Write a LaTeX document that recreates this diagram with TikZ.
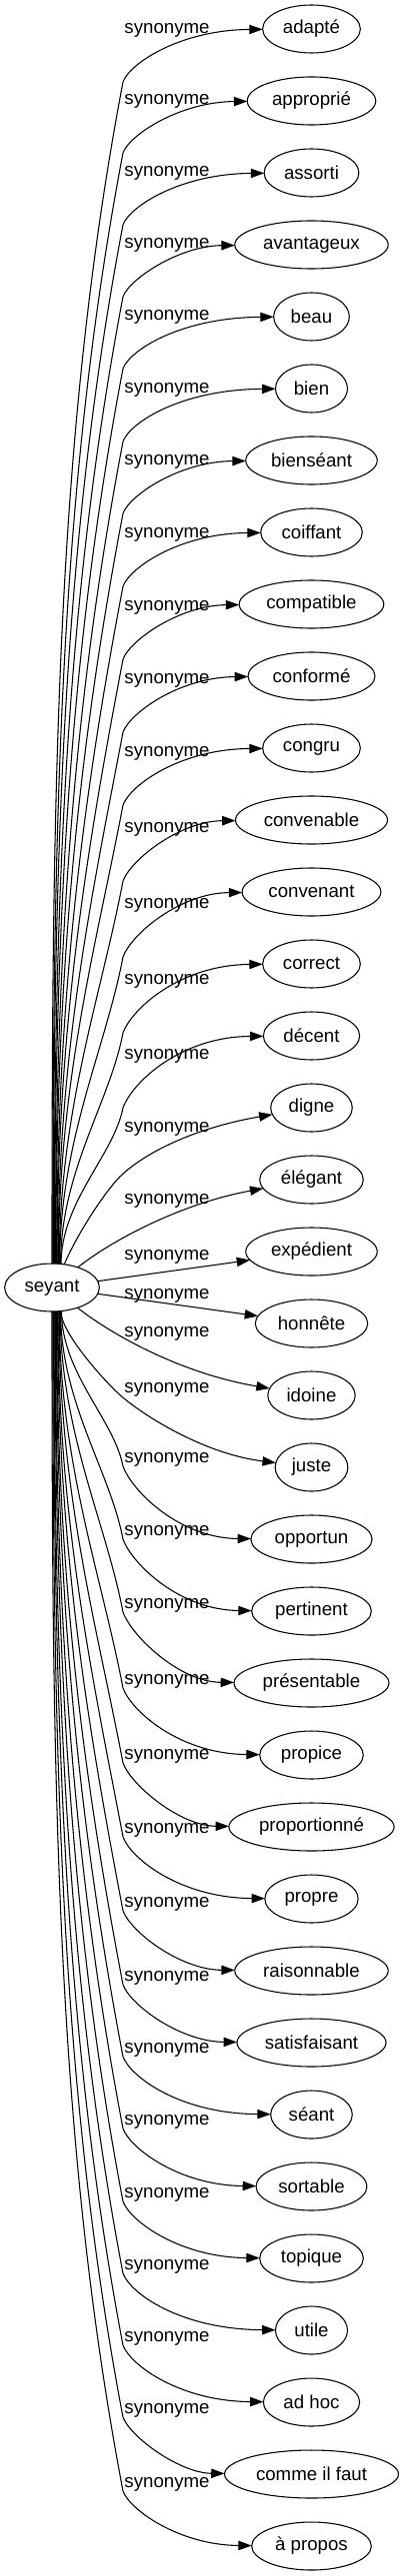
\documentclass[tikz,border=0pt]{standalone}
\usepackage{fontspec}
\setmainfont{Liberation Sans}
\usetikzlibrary{arrows.meta, positioning, shapes, calc}

\begin{document}
\begin{tikzpicture}[x=0.75pt, y=-0.75pt, node distance=18pt,
    word/.style={ellipse, draw, line width=0.8pt, minimum width=54pt, minimum height=36pt,
        inner xsep=4.5pt, inner ysep=2pt, outer sep=0pt, font=\fontsize{14}{16}\selectfont},
    rel/.style={inner sep=0pt, font=\fontsize{14}{16}\selectfont},
    link/.style={line width=0.8pt, -{Triangle[length=10pt, width=7pt]}}]
    \useasboundingbox (0,0) rectangle (403,2579);

    \node (seyant) [word] at (52,1289) {seyant};

    \node (adapte) [word] at (311.5,29) {adapté};
    \node (approprie) [word, below=of adapte] {approprié};
    \node (assorti) [word, below=of approprie] {assorti};
    \node (avantageux) [word, below=of assorti] {avantageux};
    \node (beau) [word, below=of avantageux] {beau};
    \node (bien) [word, below=of beau] {bien};
    \node (bienseant) [word, below=of bien] {bienséant};
    \node (coiffant) [word, below=of bienseant] {coiffant};
    \node (compatible) [word, below=of coiffant] {compatible};
    \node (conforme) [word, below=of compatible] {conformé};
    \node (congru) [word, below=of conforme] {congru};
    \node (convenable) [word, below=of congru] {convenable};
    \node (convenant) [word, below=of convenable] {convenant};
    \node (correct) [word, below=of convenant] {correct};
    \node (decent) [word, below=of correct] {décent};
    \node (digne) [word, below=of decent] {digne};
    \node (elegant) [word, below=of digne] {élégant};
    \node (expedient) [word, below=of elegant] {expédient};
    \node (honnete) [word, below=of expedient] {honnête};
    \node (idoine) [word, below=of honnete] {idoine};
    \node (juste) [word, below=of idoine] {juste};
    \node (opportun) [word, below=of juste] {opportun};
    \node (pertinent) [word, below=of opportun] {pertinent};
    \node (presentable) [word, below=of pertinent] {présentable};
    \node (propice) [word, below=of presentable] {propice};
    \node (proportionne) [word, below=of propice] {proportionné};
    \node (propre) [word, below=of proportionne] {propre};
    \node (raisonnable) [word, below=of propre] {raisonnable};
    \node (satisfaisant) [word, below=of raisonnable] {satisfaisant};
    \node (seant) [word, below=of satisfaisant] {séant};
    \node (sortable) [word, below=of seant] {sortable};
    \node (topique) [word, below=of sortable] {topique};
    \node (utile) [word, below=of topique] {utile};
    \node (adhoc) [word, below=of utile] {ad hoc};
    \node (commeilfaut) [word, below=of adhoc] {comme il faut};
    \node (apropos) [word, below=of commeilfaut] {à propos};

    % upper fan
    \foreach \tgt/\tyy/\lyy/\angl in {adapte/29/30/90, approprie/101/101/88, assorti/173/173/87,
        avantageux/245/245/85, beau/317/317/84, bien/389/390/82, bienseant/461/462/81,
        coiffant/533/535/79, compatible/605/608/78, conforme/677/681/76, congru/749/754/75,
        convenable/821/830/73, convenant/893/906/72, correct/965/982/70, decent/1037/1057/69} {
        \pgfmathsetmacro\byy{\lyy+52}
        \pgfmathsetmacro\dist{1266-\byy}
        \pgfmathsetmacro\rise{\byy-\tyy}
        \node (lbl-\tgt) [rel] at (167,\lyy) {synonyme};
        \draw [link] (seyant.\angl) .. controls ($(seyant.\angl)+(0,-0.4*\dist)$) and (123-0.057*\dist,\byy+0.3*\dist) .. (123,\byy)
            .. controls (123+0.13*\rise,\byy-0.35*\rise) and (180,\tyy+1) .. (\tgt);
    }

    % middle
    \node (lbl-digne) [rel] at (167,1130) {synonyme};
    \draw [link] (seyant.62) .. controls (75,1240) and (100,1200) .. (118,1180) .. controls (140,1157) and (190,1130) .. (digne);
    \node (lbl-elegant) [rel] at (167,1202) {synonyme};
    \draw [link] (seyant.38) .. controls (110,1243) and (180,1205) .. (elegant);
    \node (lbl-expedient) [rel] at (167,1258) {synonyme};
    \draw [link] (seyant) -- (expedient);
    \node (lbl-honnete) [rel] at (167,1297) {synonyme};
    \draw [link] (seyant) -- (honnete);
    \node (lbl-idoine) [rel] at (167,1335) {synonyme};
    \draw [link] (seyant) .. controls (110,1335) and (180,1375) .. (idoine);
    \node (lbl-juste) [rel] at (167,1391) {synonyme};
    \draw [link] (seyant.-70) .. controls (62,1335) and (100,1377) .. (115,1392) .. controls (135,1412) and (200,1455) .. (juste);

    % lower fan
    \foreach \tgt/\tyy/\lyy/\angl in {opportun/1541/1461/-68, pertinent/1613/1534/-70, presentable/1685/1607/-71,
        propice/1757/1683/-73, proportionne/1829/1758/-74, propre/1901/1832/-76, raisonnable/1973/1906/-77,
        satisfaisant/2045/1980/-79, seant/2117/2052/-80, sortable/2189/2124/-82, topique/2261/2197/-83,
        utile/2333/2269/-85, adhoc/2405/2341/-86, commeilfaut/2477/2413/-88, apropos/2549/2487/-90} {
        \pgfmathsetmacro\byy{\lyy+7}
        \pgfmathsetmacro\dist{\byy-1312}
        \pgfmathsetmacro\rise{\tyy-\byy}
        \node (lbl-\tgt) [rel] at (167,\lyy) {synonyme};
        \draw [link] (seyant.\angl) .. controls ($(seyant.\angl)+(0,0.4*\dist)$) and (123-0.057*\dist,\byy-0.3*\dist) .. (123,\byy)
            .. controls (123+0.13*\rise,\byy+0.35*\rise) and (180,\tyy-1) .. (\tgt);
    }
\end{tikzpicture}
\end{document}
